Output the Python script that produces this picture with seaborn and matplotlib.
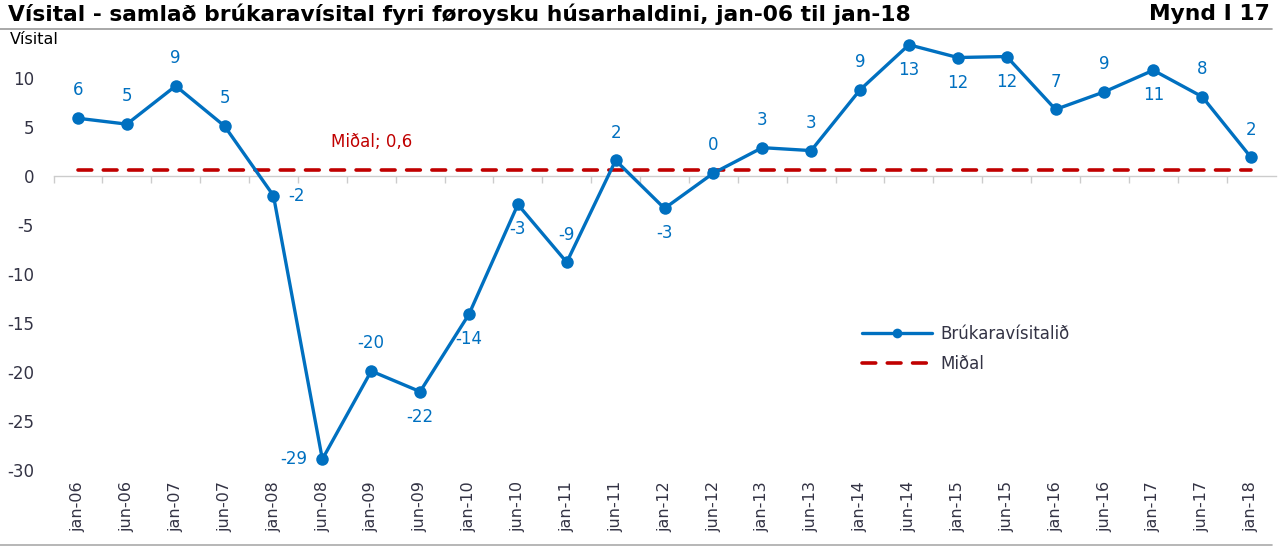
import numpy as np
import pandas as pd
import matplotlib
matplotlib.use("Agg")
import matplotlib.pyplot as plt
import seaborn as sns

# ---- data ----
categories = ["jan-06", "jun-06", "jan-07", "jun-07", "jan-08", "jun-08", "jan-09", "jun-09",
              "jan-10", "jun-10", "jan-11", "jun-11", "jan-12", "jun-12", "jan-13", "jun-13",
              "jan-14", "jun-14", "jan-15", "jun-15", "jan-16", "jun-16", "jan-17", "jun-17",
              "jan-18"]
index_values = [5.9, 5.3, 9.2, 5.1, -2.0, -28.9, -19.9, -22.0, -14.1, -2.9, -8.8, 1.6, -3.3,
                0.3, 2.9, 2.6, 8.8, 13.4, 12.1, 12.2, 6.8, 8.6, 10.8, 8.1, 1.9]
value_labels = ["6", "5", "9", "5", "-2", "-29", "-20", "-22", "-14", "-3", "-9", "2", "-3",
                "0", "3", "3", "9", "13", "12", "12", "7", "9", "11", "8", "2"]
mean_value = 0.6
mean_values = [mean_value] * len(categories)
y_ticks = [-30, -25, -20, -15, -10, -5, 0, 5, 10]

# label placement (layout only)
label_pos = ["above", "above", "above", "above", "right", "left", "above", "below",
             "below", "below", "above", "above", "below", "above", "above", "above",
             "above", "below", "below", "below", "above", "above", "below", "above",
             "above"]

BLUE = "#0070C0"
RED = "#C00000"
TXT = "#333344"

sns.set_theme(style="white")
plt.rcParams["font.family"] = ["DejaVu Sans"]

fig = plt.figure(figsize=(12.87, 5.46), dpi=100)
ax = fig.add_axes([53.5 / 1287, (546 - 470) / 546, (1275.5 - 53.5) / 1287, (470 - 34) / 546])

df = pd.DataFrame({"x": np.arange(len(categories)), "Brúkaravísitalið": index_values,
                   "Miðal": mean_values})

sns.lineplot(data=df, x="x", y="Miðal", ax=ax, color=RED, linewidth=2.6,
             linestyle=(0, (3.8, 3.2)), label="Miðal", zorder=2)
sns.lineplot(data=df, x="x", y="Brúkaravísitalið", ax=ax, color=BLUE, linewidth=2.4,
             marker="o", markersize=9, markeredgewidth=0, label="Brúkaravísitalið", zorder=3)
for l in ax.get_lines():
    l.set_dash_capstyle("round")

ax.set_xlim(-0.5, len(categories) - 0.5)
ax.set_ylim(-30, 14.5)
ax.set_yticks(y_ticks)
ax.set_yticklabels([str(t) for t in y_ticks], fontsize=12, color=TXT)
ax.tick_params(axis="y", length=0, pad=14)
ax.set_xlabel("")
ax.set_ylabel("")

for s in ["left", "right", "top"]:
    ax.spines[s].set_visible(False)
ax.spines["bottom"].set_position(("data", 0))
ax.spines["bottom"].set_color("#CCCCCC")
ax.spines["bottom"].set_linewidth(1.0)
ax.spines["bottom"].set_zorder(1)
ax.set_xticks(np.arange(len(categories)))
ax.set_xticklabels([])
ax.tick_params(axis="x", which="both", bottom=True)
ax.tick_params(axis="x", which="major", length=0)
ax.set_xticks(np.arange(-0.5, len(categories) - 0.5, 1), minor=True)
ax.tick_params(axis="x", which="minor", length=5, color="#CCCCCC", width=1.0, direction="out")

sec = ax.secondary_xaxis("bottom")
sec.set_xticks(np.arange(len(categories)))
sec.set_xticklabels(categories, rotation=90, fontsize=11.5, color=TXT)
sec.tick_params(length=0, pad=8)
sec.spines["bottom"].set_visible(False)

# data labels
offsets = {"above": (0, 20, "center", "center"), "below": (0, -18, "center", "center"),
           "right": (11, 0, "left", "center"), "left": (-11, 0, "right", "center")}
for i, (v, lab, p) in enumerate(zip(index_values, value_labels, label_pos)):
    dx, dy, ha, va = offsets[p]
    ax.annotate(lab, (i, v), xytext=(dx, dy), textcoords="offset points",
                ha=ha, va=va, fontsize=12, color=BLUE)

ax.annotate("Miðal; 0,6", (6, mean_value), xytext=(0, 20), textcoords="offset points",
            ha="center", va="center", fontsize=12, color=RED)

leg = ax.legend(handles=ax.get_lines()[::-1], labels=["Brúkaravísitalið", "Miðal"],
                loc="center left", bbox_to_anchor=(0.656, 0.2775), borderaxespad=0,
                frameon=False, fontsize=12, handlelength=4.2, handletextpad=0.5,
                labelspacing=0.75, labelcolor=TXT)
leg.get_lines()[0].set_markersize(7)

# titles
fig.text(8 / 1287, 1 - 14 / 546, "Vísital - samlað brúkaravísital fyri føroysku húsarhaldini, jan-06 til jan-18",
         fontsize=15.7, fontweight="bold", color="black", ha="left", va="center")
fig.text(1270 / 1287, 1 - 14 / 546, "Mynd I 17", fontsize=15.7, fontweight="bold",
         color="black", ha="right", va="center")
fig.text(10 / 1287, 1 - 40 / 546, "Vísital", fontsize=11.5, color="black", ha="left", va="center")
fig.add_artist(plt.Line2D([0, 1272 / 1287], [1 - 28.5 / 546] * 2, color="#999999", lw=1.2))
fig.add_artist(plt.Line2D([0, 1272 / 1287], [1 - 544.5 / 546] * 2, color="#AAAAAA", lw=1.2))

fig.savefig("out.png", dpi=100, facecolor="white")
